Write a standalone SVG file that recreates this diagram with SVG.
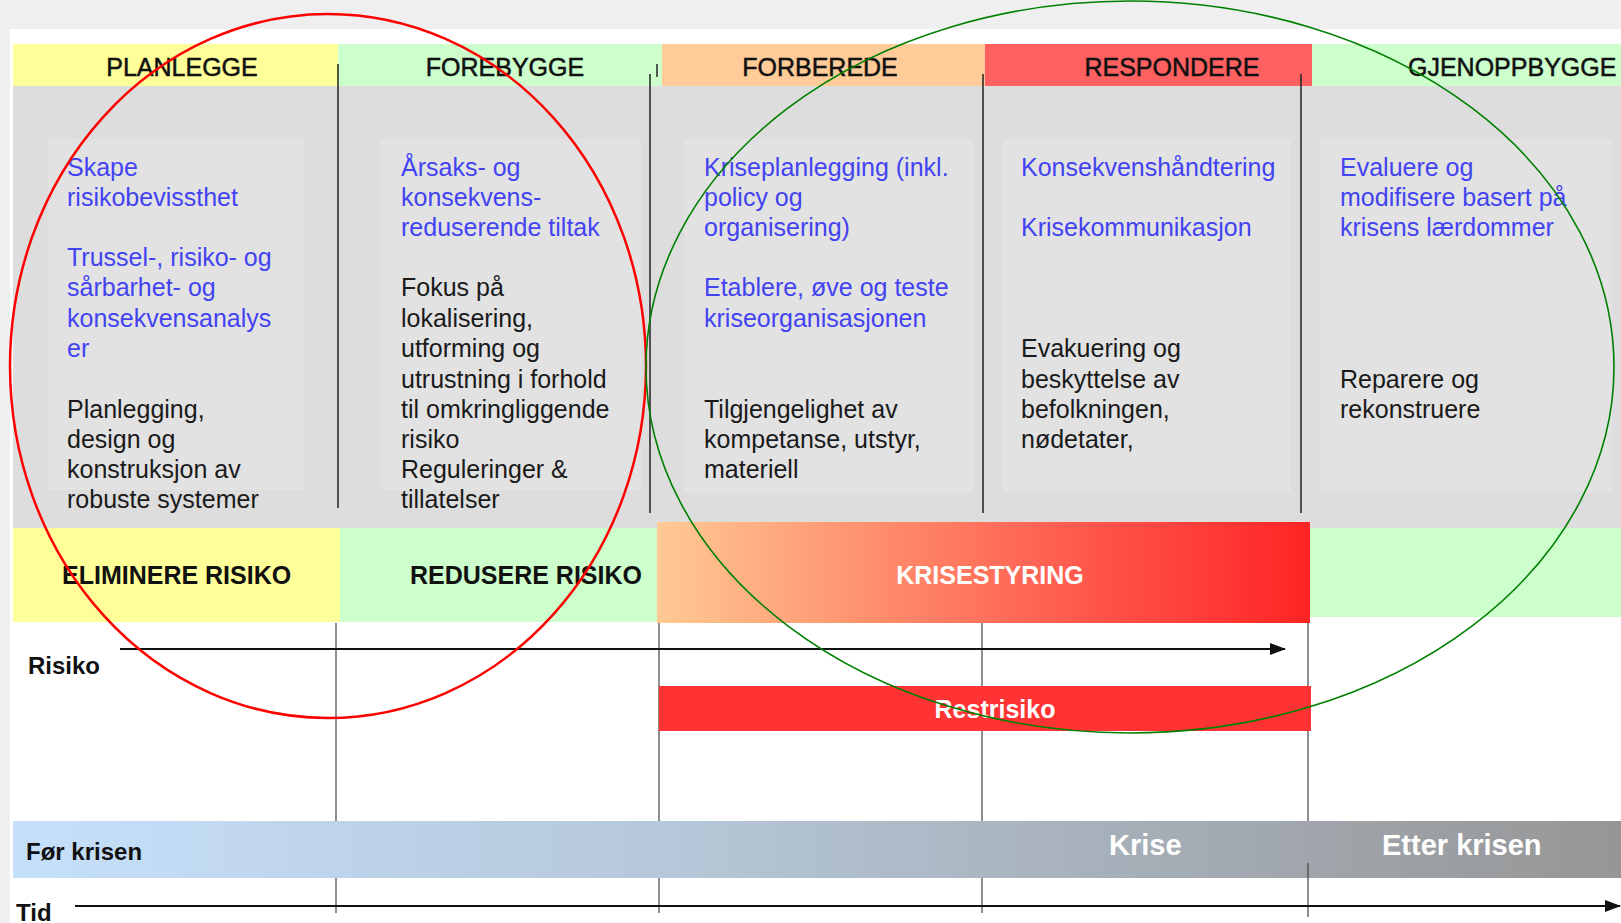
<svg xmlns="http://www.w3.org/2000/svg" width="1621" height="923" viewBox="0 0 1621 923">
<defs>
<linearGradient id="krise" x1="0" y1="0" x2="1" y2="0">
<stop offset="0" stop-color="#ffca94"/>
<stop offset="0.3" stop-color="#ff9470"/>
<stop offset="0.7" stop-color="#ff5048"/>
<stop offset="1" stop-color="#ff2424"/>
</linearGradient>
<linearGradient id="tid" x1="0" y1="0" x2="1" y2="0">
<stop offset="0" stop-color="#c6e0fb"/>
<stop offset="0.4" stop-color="#b6c8da"/>
<stop offset="0.8" stop-color="#a0a6ac"/>
<stop offset="1" stop-color="#969696"/>
</linearGradient>
<marker id="arrow" viewBox="0 0 16 12" refX="15" refY="6" markerWidth="16" markerHeight="12" markerUnits="userSpaceOnUse" orient="auto">
<path d="M0,0 L16,6 L0,12 z" fill="#111"/>
</marker>
</defs>
<style>
text{font-family:"Liberation Sans",Arial,sans-serif;}
.hd{font-size:25px;fill:#111;stroke:#111;stroke-width:0.5;}
.band{font-size:25px;font-weight:bold;fill:#111;}
.wb{font-weight:bold;fill:#fff;}
.bl{font-size:25px;fill:#4343f2;}
.bk{font-size:25px;fill:#1a1a1a;}
.lbl{font-size:24px;font-weight:bold;fill:#111;}
.div{stroke:#222;stroke-width:1.5;}
.vl{stroke:#444;stroke-width:1.2;}
.inner{fill:#e2e2e2;}
</style>
<rect x="0" y="0" width="1621" height="923" fill="#efefef"/>
<rect x="10" y="29" width="1611" height="894" fill="#ffffff"/>

<g id="body">
<rect x="13" y="86" width="1608" height="442" fill="#dddddd"/>
<rect class="inner" x="48" y="139" width="256" height="351"/>
<rect class="inner" x="380" y="139" width="261" height="351"/>
<rect class="inner" x="684" y="139" width="289" height="354"/>
<rect class="inner" x="1003" y="139" width="288" height="353"/>
<rect class="inner" x="1320" y="139" width="292" height="353"/>
</g>

<g id="planlegge">
<rect x="13" y="44" width="325" height="42" fill="#ffff99"/>
<text class="hd" x="182" y="76" text-anchor="middle">PLANLEGGE</text>
<text class="bl" x="67" y="176">Skape</text>
<text class="bl" x="67" y="206">risikobevissthet</text>
<text class="bl" x="67" y="266">Trussel-, risiko- og</text>
<text class="bl" x="67" y="296">sårbarhet- og</text>
<text class="bl" x="67" y="327">konsekvensanalys</text>
<text class="bl" x="67" y="357">er</text>
<text class="bk" x="67" y="418">Planlegging,</text>
<text class="bk" x="67" y="448">design og</text>
<text class="bk" x="67" y="478">konstruksjon av</text>
<text class="bk" x="67" y="508">robuste systemer</text>
</g>

<g id="forebygge">
<rect x="338" y="44" width="324" height="42" fill="#ccffcc"/>
<text class="hd" x="505" y="76" text-anchor="middle">FOREBYGGE</text>
<text class="bl" x="401" y="176">Årsaks- og</text>
<text class="bl" x="401" y="206">konsekvens-</text>
<text class="bl" x="401" y="236">reduserende tiltak</text>
<text class="bk" x="401" y="296">Fokus på</text>
<text class="bk" x="401" y="327">lokalisering,</text>
<text class="bk" x="401" y="357">utforming og</text>
<text class="bk" x="401" y="388">utrustning i forhold</text>
<text class="bk" x="401" y="418">til omkringliggende</text>
<text class="bk" x="401" y="448">risiko</text>
<text class="bk" x="401" y="478">Reguleringer &amp;</text>
<text class="bk" x="401" y="508">tillatelser</text>
</g>

<g id="forberede">
<rect x="662" y="44" width="323" height="42" fill="#ffcc99"/>
<text class="hd" x="820" y="76" text-anchor="middle">FORBEREDE</text>
<text class="bl" x="704" y="176">Kriseplanlegging (inkl.</text>
<text class="bl" x="704" y="206">policy og</text>
<text class="bl" x="704" y="236">organisering)</text>
<text class="bl" x="704" y="296">Etablere, øve og teste</text>
<text class="bl" x="704" y="327">kriseorganisasjonen</text>
<text class="bk" x="704" y="418">Tilgjengelighet av</text>
<text class="bk" x="704" y="448">kompetanse, utstyr,</text>
<text class="bk" x="704" y="478">materiell</text>
</g>

<g id="respondere">
<rect x="985" y="44" width="327" height="42" fill="#ff6060"/>
<text class="hd" x="1172" y="76" text-anchor="middle">RESPONDERE</text>
<text class="bl" x="1021" y="176">Konsekvenshåndtering</text>
<text class="bl" x="1021" y="236">Krisekommunikasjon</text>
<text class="bk" x="1021" y="357">Evakuering og</text>
<text class="bk" x="1021" y="388">beskyttelse av</text>
<text class="bk" x="1021" y="418">befolkningen,</text>
<text class="bk" x="1021" y="448">nødetater,</text>
</g>

<g id="gjenoppbygge">
<rect x="1312" y="44" width="309" height="42" fill="#ccffcc"/>
<text class="hd" x="1408" y="76">GJENOPPBYGGE</text>
<text class="bl" x="1340" y="176">Evaluere og</text>
<text class="bl" x="1340" y="206">modifisere basert på</text>
<text class="bl" x="1340" y="236">krisens lærdommer</text>
<text class="bk" x="1340" y="388">Reparere og</text>
<text class="bk" x="1340" y="418">rekonstruere</text>
</g>

<g id="dividers">
<line class="div" x1="338" y1="64" x2="338" y2="508" stroke="#555"/>
<line class="div" x1="650" y1="74" x2="650" y2="513"/>
<line class="div" x1="657" y1="64" x2="657" y2="77" stroke="#888"/>
<line class="div" x1="983" y1="74" x2="983" y2="513"/>
<line class="div" x1="1301" y1="74" x2="1301" y2="513"/>
</g>

<g id="eliminere-risiko">
<rect x="13" y="528" width="327" height="94" fill="#ffff99"/>
<text class="band" x="62" y="584">ELIMINERE RISIKO</text>
</g>
<g id="redusere-risiko">
<rect x="340" y="528" width="318" height="94" fill="#ccffcc"/>
<text class="band" x="410" y="584">REDUSERE RISIKO</text>
</g>
<g id="krisestyring">
<rect x="657" y="522" width="653" height="101" fill="url(#krise)"/>
<text class="wb" x="990" y="584" font-size="25" text-anchor="middle">KRISESTYRING</text>
</g>
<g id="gjenoppbygge-band">
<rect x="1310" y="528" width="311" height="89" fill="#ccffcc"/>
</g>

<g id="connectors">
<line class="vl" x1="336" y1="623" x2="336" y2="913"/>
<line class="vl" x1="659" y1="623" x2="659" y2="913"/>
<line class="vl" x1="982" y1="623" x2="982" y2="913"/>
<line class="vl" x1="1308" y1="623" x2="1308" y2="917"/>
<line x1="120" y1="649" x2="1285" y2="649" stroke="#111" stroke-width="2" marker-end="url(#arrow)"/>
<line x1="75" y1="906" x2="1620" y2="906" stroke="#111" stroke-width="2" marker-end="url(#arrow)"/>
</g>

<g id="risiko">
<text class="lbl" x="28" y="674">Risiko</text>
</g>

<g id="restrisiko">
<rect x="659" y="686" width="652" height="45" fill="#ff3333"/>
<text class="wb" x="995" y="718" font-size="25" text-anchor="middle">Restrisiko</text>
</g>

<g id="tidslinje">
<rect x="13" y="821" width="1608" height="57" fill="url(#tid)"/>
<line class="vl" x1="1308" y1="863" x2="1308" y2="878"/>
<text class="lbl" x="26" y="860">Før krisen</text>
<text class="wb" x="1109" y="855" font-size="29">Krise</text>
<text class="wb" x="1382" y="855" font-size="29">Etter krisen</text>
</g>

<g id="tid">
<text class="lbl" x="16" y="921">Tid</text>
</g>

<g id="ellipses">
<ellipse cx="328" cy="366" rx="318" ry="352" fill="none" stroke="#ff0000" stroke-width="2.5"/>
<ellipse cx="1130" cy="367" rx="484" ry="366" fill="none" stroke="#008000" stroke-width="1.6"/>
</g>
</svg>
